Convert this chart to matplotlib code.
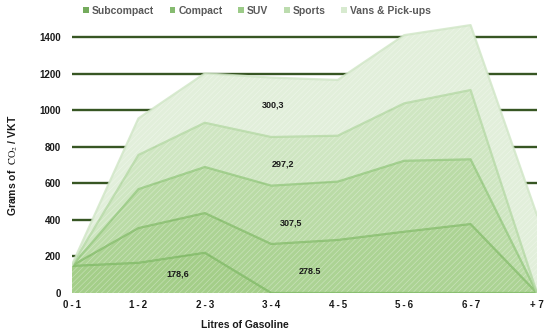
import matplotlib
matplotlib.use("Agg")
import matplotlib.pyplot as plt
from matplotlib.patches import Patch
import numpy as np

categories = ['0-1', '1-2', '2-3', '3-4', '4-5', '5-6', '6-7', '+ 7']
series_names = ['Subcompact', 'Compact', 'SUV', 'Sports', 'Vans & Pick-ups']
subcompact = [148, 165, 220, 0, 0, 0, 0, 0]
compact = [2, 190, 217, 268, 290, 335, 377, 0]
suv = [0, 213, 252, 319, 319, 388, 354, 0]
sports = [2, 187, 242, 266, 251, 314, 379, 0]
vans = [3, 200, 270, 325, 305, 373, 355, 426]
y_ticks = [0, 200, 400, 600, 800, 1000, 1200, 1400]
label_texts = ['300,3', '297,2', '307,5', '178,6', '278.5']
label_x = [3.03, 3.17, 3.29, 1.60, 3.58]
label_y = [1028, 705, 384, 104, 117]

fill_colors = ['#a4ce89', '#acd394', '#badba6', '#cfe6c2', '#e2efdb']
line_colors = ['#80ba66', '#86bd6c', '#96c980', '#b5d9a5', '#d0e6c6']
legend_colors = ['#74ab5c', '#86bb70', '#9ccb88', '#bcdcae', '#d7eacf']

plt.rcParams['font.family'] = ['Liberation Sans', 'DejaVu Sans']
plt.rcParams['mathtext.fontset'] = 'stix'
plt.rcParams['hatch.linewidth'] = 0.5

fig = plt.figure(figsize=(5.5, 3.36), dpi=100)
ax = fig.add_axes([72/550, 1-293/336, (537-72)/550, (293-18.7)/336])

for v in y_ticks:
    ax.axhline(v, color='#375623', linewidth=1.7, zorder=1)

x = np.arange(len(categories))
data = [subcompact, compact, suv, sports, vans]
cum = np.zeros(len(categories))
tops = []
for i, s in enumerate(data):
    new = cum + np.array(s, dtype=float)
    ax.fill_between(x, cum, new, facecolor=fill_colors[i], edgecolor='none',
                    linewidth=0, zorder=2)
    ax.fill_between(x, cum, new, facecolor='none', edgecolor='#ffffff',
                    alpha=0.35, hatch='//////', linewidth=0, zorder=2.1)
    tops.append(new.copy())
    cum = new
for i, t in enumerate(tops):
    ax.plot(x, t, color=line_colors[i], lw=1.6, alpha=0.8, zorder=3,
            solid_joinstyle='round')

for t, lx, ly in zip(label_texts, label_x, label_y):
    ax.text(lx, ly, t, ha='center', va='center', fontsize=6.5,
            fontweight='bold', color='#1a1a1a', zorder=5)

ax.set_xlim(0, 7)
ax.set_ylim(0, 1500)
ax.set_yticks(y_ticks)
ax.set_yticklabels([str(v) for v in y_ticks])
ax.set_xticks(x)
ax.set_xticklabels([c.replace('-', '\u2009-\u2009') for c in categories])
for sp in ax.spines.values():
    sp.set_visible(False)
ax.tick_params(axis='both', length=0, labelsize=7, colors='#1a1a1a')
ax.tick_params(axis='y', pad=8)
ax.tick_params(axis='x', pad=5)
for lab in ax.get_xticklabels() + ax.get_yticklabels():
    lab.set_fontweight('bold')

fig.text(245/550, 1-325/336, 'Litres of Gasoline', ha='center', va='center',
         fontsize=7.5, fontweight='bold', color='#1a1a1a')
fig.text(13/550, 1-165/336, r'Grams of  $\mathrm{CO_2}$ / VKT', ha='center',
         va='center', rotation=90, fontsize=7.5, fontweight='bold', color='#1a1a1a')

handles = [Patch(facecolor=c, edgecolor='none') for c in legend_colors]
leg = fig.legend(handles, series_names, loc='center', ncol=5,
                 bbox_to_anchor=(257/550, 1-11/336), frameon=False,
                 handlelength=0.55, handleheight=0.55, handletextpad=0.3,
                 columnspacing=1.5, prop={'weight': 'bold', 'size': 7.5})
for t in leg.get_texts():
    t.set_color('#595959')

fig.savefig('out.png', dpi=100)
